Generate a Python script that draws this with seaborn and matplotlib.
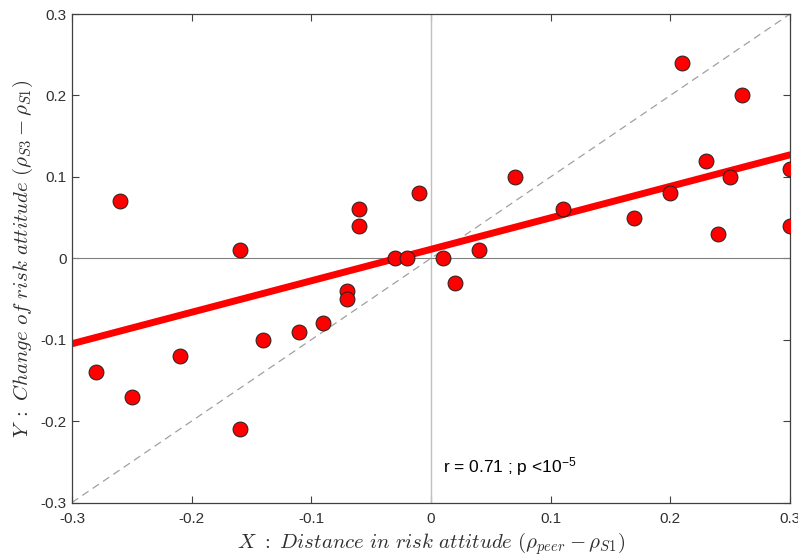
import numpy as np
import pandas as pd
import seaborn as sns
import matplotlib
matplotlib.use("Agg")
import matplotlib.pyplot as plt

x_dist = [-0.28, -0.26, -0.25, -0.21, -0.16, -0.16, -0.14, -0.11, -0.09, -0.07,
          -0.07, -0.06, -0.06, -0.03, -0.02, -0.01, 0.01, 0.02, 0.04, 0.07,
          0.11, 0.17, 0.20, 0.21, 0.23, 0.24, 0.25, 0.26, 0.30, 0.30]
y_change = [-0.14, 0.07, -0.17, -0.12, 0.01, -0.21, -0.10, -0.09, -0.08, -0.04,
            -0.05, 0.06, 0.04, 0.00, 0.00, 0.08, 0.00, -0.03, 0.01, 0.10,
            0.06, 0.05, 0.08, 0.24, 0.12, 0.03, 0.10, 0.20, 0.11, 0.04]
# fitted line as drawn in the reference (endpoints)
fit_x = [-0.3, 0.3]
fit_y = [-0.105, 0.127]
identity = [-0.3, 0.3]
ticks = [-0.3, -0.2, -0.1, 0, 0.1, 0.2, 0.3]
tick_labels = ["-0.3", "-0.2", "-0.1", "0", "0.1", "0.2", "0.3"]

df = pd.DataFrame({"x": x_dist, "y": y_change})
fit_df = pd.DataFrame({"x": fit_x, "y": fit_y})

sns.set_style("white")
plt.rcParams["font.family"] = ["Liberation Sans", "DejaVu Sans"]
plt.rcParams["mathtext.fontset"] = "cm"

fig = plt.figure(figsize=(7.98, 5.57), dpi=100)
ax = fig.add_axes([72/798, 1-502.5/557, 718/798, 488.5/557])

ax.axvline(0, color="#c0c0c0", lw=1.0, zorder=1)
ax.axhline(0, color="#808080", lw=0.8, zorder=1)
ax.plot(identity, identity, ls=(0, (6, 4)), color="#a0a0a0", lw=0.9, zorder=1)

sns.lineplot(data=fit_df, x="x", y="y", ax=ax, color="#ff0000", lw=5, zorder=2)
sns.scatterplot(data=df, x="x", y="y", ax=ax, s=115, color="#ff0000",
                edgecolor="#202020", linewidth=0.7, zorder=3, legend=False)

ax.set_xlim(-0.3, 0.3)
ax.set_ylim(-0.3, 0.3)
ax.set_xticks(ticks)
ax.set_xticklabels(tick_labels)
ax.set_yticks(ticks)
ax.set_yticklabels(tick_labels)
ax.tick_params(direction="in", length=5, width=0.8, colors="#404040", labelcolor="#303030",
               labelsize=11, top=True, right=True, bottom=True, left=True)
ax.tick_params(axis="x", pad=7)
ax.tick_params(axis="y", pad=4)
for s in ax.spines.values():
    s.set_color("#404040")
    s.set_linewidth(0.9)
    s.set_visible(True)

ax.set_xlabel(r"$X\ :\ Distance\ in\ risk\ attitude\ (\rho_{peer}-\rho_{S1})$", fontsize=15, color="#303030", labelpad=3)
ax.set_ylabel(r"$Y\ :\ Change\ of\ risk\ attitude\ (\rho_{S3}-\rho_{S1})$", fontsize=15, color="#303030", labelpad=4)

ax.text(0.01, -0.257, r"r = 0.71 ; p <10$^{\mathregular{-5}}$", fontsize=12.5, color="black", va="center", ha="left")

fig.savefig("out.png", dpi=100)
